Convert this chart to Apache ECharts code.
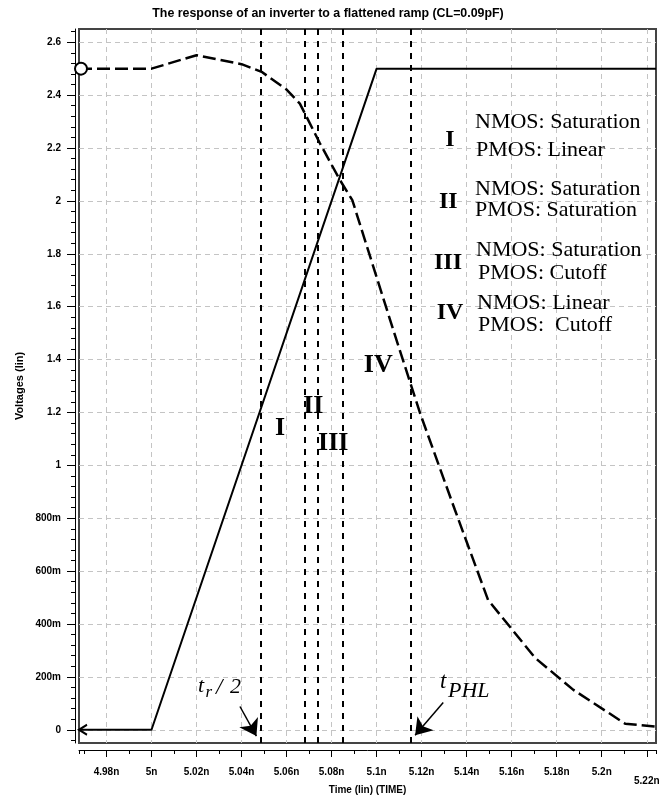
<!DOCTYPE html>
<html>
<head>
<meta charset="utf-8">
<script src="https://cdn.jsdelivr.net/npm/echarts@6/dist/echarts.min.js"></script>
<style>
html,body{margin:0;padding:0;background:#fff;}
#chart{width:669px;height:796px;}
</style>
</head>
<body>
<div id="chart"></div>
<script>
// ---- data ----
const inputT = [4.9678, 5.0, 5.1, 5.2241];
const inputV = [0, 0, 2.5, 2.5];
const outputT = [4.9678, 5.0, 5.02, 5.04, 5.0489, 5.06, 5.0659, 5.0748, 5.0837, 5.0892, 5.1074, 5.1193, 5.1348, 5.1495, 5.1704, 5.1874, 5.2104, 5.2241];
const outputV = [2.5, 2.5, 2.551, 2.517, 2.488, 2.421, 2.368, 2.218, 2.079, 2.003, 1.512, 1.197, 0.831, 0.491, 0.272, 0.151, 0.023, 0.012];
const regionBoundsT = [5.0487, 5.0681, 5.0739, 5.0851, 5.1150];
const xTicks = [4.98, 5.0, 5.02, 5.04, 5.06, 5.08, 5.1, 5.12, 5.14, 5.16, 5.18, 5.2, 5.22];
const xTickLabels = ['4.98n', '5n', '5.02n', '5.04n', '5.06n', '5.08n', '5.1n', '5.12n', '5.14n', '5.16n', '5.18n', '5.2n', '5.22n'];
const yTicks = [0, 0.2, 0.4, 0.6, 0.8, 1.0, 1.2, 1.4, 1.6, 1.8, 2.0, 2.2, 2.4, 2.6];
const yTickLabels = ['0', '200m', '400m', '600m', '800m', '1', '1.2', '1.4', '1.6', '1.8', '2', '2.2', '2.4', '2.6'];
// annotation arrows: [start, end (centre of arrow head)]
const trArrow = [[5.0393, 0.088], [5.0466, -0.024]];
const tphlArrow = [[5.1296, 0.103], [5.1171, -0.021]];

const xMin = 4.9678, xMax = 5.2241, yMin = -0.05, yMax = 2.65;

// minor tick positions
const xMinor = [xMin];
for (let k = 497; k <= 522; k++) xMinor.push(k / 100);
xMinor.push(xMax);
const yMinor = [];
for (let k = -1; k <= 66; k++) yMinor.push(k * 0.04);

function lookup(ticks, labels, v) {
  let best = 0;
  for (let i = 1; i < ticks.length; i++) if (Math.abs(ticks[i] - v) < Math.abs(ticks[best] - v)) best = i;
  return labels[best];
}

const sans = "'Liberation Sans', Arial, sans-serif";
const serif = "'Liberation Serif', 'Times New Roman', serif";
const gridLine = { show: true, lineStyle: { color: '#c4c4c4', width: 1, type: [5, 4] } };

function txt(x, y, text, size, opts) {
  opts = opts || {};
  return {
    type: 'text', z: 100, silent: true,
    style: {
      x: x, y: y, text: text, fill: '#000',
      fontFamily: serif, fontSize: size,
      fontWeight: opts.bold ? 'bold' : 'normal',
      fontStyle: opts.italic ? 'italic' : 'normal',
      align: opts.align || 'left', verticalAlign: 'middle'
    }
  };
}

const graphics = [
  // legend block
  txt(450, 140, 'I', 24, { bold: true, align: 'center' }),
  txt(475, 122.7, 'NMOS: Saturation', 22),
  txt(476, 150, 'PMOS: Linear', 22),
  txt(448.3, 201.7, 'II', 24, { bold: true, align: 'center' }),
  txt(475, 189.3, 'NMOS: Saturation', 22),
  txt(475, 210.7, 'PMOS: Saturation', 22),
  txt(448, 263, 'III', 24, { bold: true, align: 'center' }),
  txt(476, 250.7, 'NMOS: Saturation', 22),
  txt(478, 273.3, 'PMOS: Cutoff', 22),
  txt(450, 313, 'IV', 24, { bold: true, align: 'center' }),
  txt(477, 303, 'NMOS: Linear', 22),
  txt(478, 325, 'PMOS:  Cutoff', 22),
  // region labels in plot
  txt(280, 428.3, 'I', 26, { bold: true, align: 'center' }),
  txt(313.3, 406.7, 'II', 26, { bold: true, align: 'center' }),
  txt(333.3, 443.3, 'III', 26, { bold: true, align: 'center' }),
  txt(378.3, 365, 'IV', 26, { bold: true, align: 'center' }),
  // t_r/2
  txt(198, 686, 't', 22, { italic: true }),
  txt(205.5, 692.5, 'r', 17, { italic: true }),
  txt(216, 688, '/', 23, { italic: true }),
  txt(230, 687, '2', 22, { italic: true }),
  // t_PHL
  txt(440, 682, 't', 23, { italic: true }),
  txt(448, 691, 'PHL', 22, { italic: true })
];

const chart = echarts.init(document.getElementById('chart'), null, { renderer: 'canvas' });
chart.setOption({
  animation: false,
  backgroundColor: '#fff',
  title: {
    text: 'The response of an inverter to a flattened ramp (CL=0.09pF)',
    left: 328, top: 8, padding: 0, textAlign: 'center',
    textStyle: { fontFamily: sans, fontSize: 12.4, fontWeight: 'bold', color: '#000' }
  },
  grid: {
    left: 79, right: 13, top: 29, bottom: 53,
    show: true, borderColor: '#444', borderWidth: 2, backgroundColor: 'transparent',
    outerBoundsMode: 'none'
  },
  xAxis: [
    {
      type: 'value', min: xMin, max: xMax, position: 'bottom', offset: 7,
      name: 'Time (lin) (TIME)', nameLocation: 'middle', nameGap: 35, nameMoveOverlap: false,
      nameTextStyle: { fontFamily: sans, fontSize: 10, fontWeight: 'bold', color: '#000' },
      axisLine: { show: true, onZero: false, lineStyle: { color: '#000', width: 1 } },
      axisTick: { show: true, inside: false, length: 7, customValues: xTicks, lineStyle: { color: '#000', width: 1 } },
      axisLabel: {
        show: true, customValues: xTicks, margin: 18, lineHeight: 9,
        fontFamily: sans, fontSize: 10, fontWeight: 'bold', color: '#000',
        formatter: function (v) {
          const s = lookup(xTicks, xTickLabels, v);
          return s === '5.22n' ? '\n' + s : s;
        }
      },
      splitLine: gridLine
    },
    {
      type: 'value', min: xMin, max: xMax, position: 'bottom', offset: 7,
      axisLine: { show: false, onZero: false },
      axisTick: { show: true, inside: false, length: 4, customValues: xMinor, lineStyle: { color: '#000', width: 1 } },
      axisLabel: { show: false },
      splitLine: { show: false }
    }
  ],
  yAxis: [
    {
      type: 'value', min: yMin, max: yMax, position: 'left', offset: 4,
      name: 'Voltages (lin)', nameLocation: 'middle', nameGap: 50, nameMoveOverlap: false,
      nameTextStyle: { fontFamily: sans, fontSize: 11, fontWeight: 'bold', color: '#000' },
      axisLine: { show: true, onZero: false, lineStyle: { color: '#000', width: 1 } },
      axisTick: { show: true, inside: false, length: 8, customValues: yTicks, lineStyle: { color: '#000', width: 1 } },
      axisLabel: {
        show: true, customValues: yTicks, margin: 14,
        fontFamily: sans, fontSize: 10, fontWeight: 'bold', color: '#000',
        formatter: function (v) { return lookup(yTicks, yTickLabels, v); }
      },
      splitLine: gridLine
    },
    {
      type: 'value', min: yMin, max: yMax, position: 'left', offset: 4,
      axisLine: { show: false, onZero: false },
      axisTick: { show: true, inside: false, length: 4, customValues: yMinor, lineStyle: { color: '#000', width: 1 } },
      axisLabel: { show: false },
      splitLine: { show: false }
    }
  ],
  series: [
    {
      name: 'input', type: 'line', xAxisIndex: 0, yAxisIndex: 0,
      symbol: 'none', showSymbol: true, showAllSymbol: true, z: 5,
      lineStyle: { color: '#000', width: 2 },
      data: inputT.map(function (t, i) {
        if (i === 0) return {
          value: [t, inputV[i]],
          symbol: 'path://M8,0 L0,5 L8,10', symbolSize: [8, 10], symbolOffset: [4, 0],
          itemStyle: { color: 'rgba(0,0,0,0)', borderColor: '#000', borderWidth: 2 }
        };
        return [t, inputV[i]];
      }),
      markLine: {
        silent: true, symbol: ['none', 'none'], animation: false,
        precision: 6,
        label: { show: false },
        lineStyle: { color: '#000', width: 2, type: [6, 6] },
        emphasis: { disabled: true },
        data: regionBoundsT.map(function (t) {
          return [{ coord: [t, yMax] }, { coord: [t, yMin] }];
        })
      }
    },
    {
      name: 'output', type: 'line', xAxisIndex: 0, yAxisIndex: 0,
      symbol: 'none', showSymbol: true, showAllSymbol: true, z: 5,
      lineStyle: { color: '#000', width: 2.5, type: [13, 5] },
      data: outputT.map(function (t, i) {
        if (i === 0) return {
          value: [t, outputV[i]],
          symbol: 'circle', symbolSize: 12, symbolOffset: [2, 0],
          itemStyle: { color: '#fff', borderColor: '#000', borderWidth: 2 }
        };
        return [t, outputV[i]];
      }),
      markLine: {
        silent: true, animation: false, precision: 6,
        symbol: ['none', 'arrow'], symbolSize: 16,
        label: { show: false },
        lineStyle: { color: '#000', width: 1.5, type: 'solid' },
        itemStyle: { color: '#000' },
        emphasis: { disabled: true },
        data: [
          [{ coord: trArrow[0] }, { coord: trArrow[1] }],
          [{ coord: tphlArrow[0] }, { coord: tphlArrow[1] }]
        ]
      }
    }
  ],
  graphic: graphics
});
</script>
</body>
</html>
